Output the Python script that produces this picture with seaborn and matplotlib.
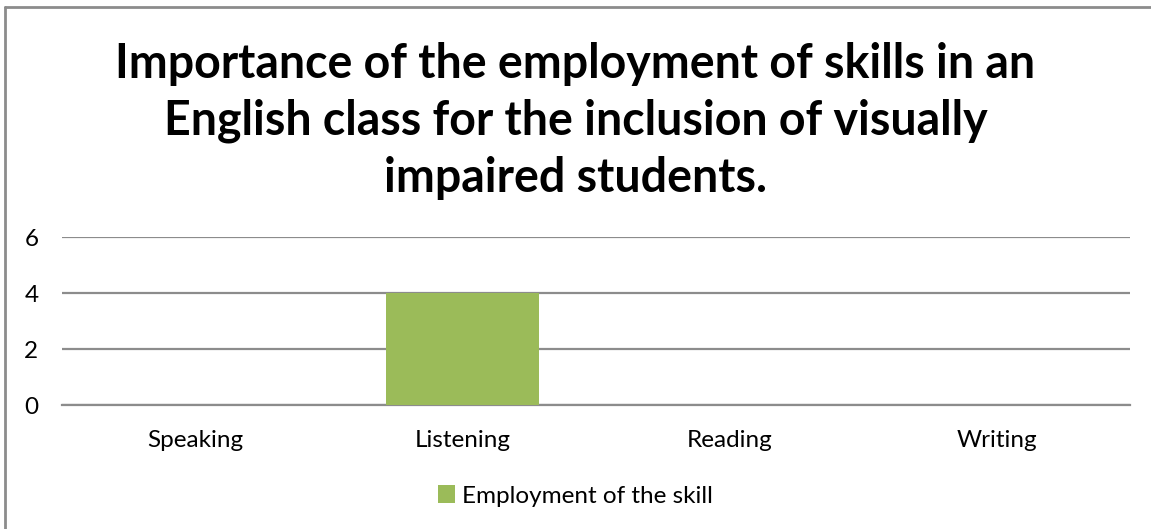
import matplotlib
matplotlib.use("Agg")
import matplotlib.pyplot as plt
import seaborn as sns
import pandas as pd
from matplotlib.lines import Line2D
from matplotlib.patches import Patch

categories = ["Speaking", "Listening", "Reading", "Writing"]
values = [0, 4, 0, 0]
series_name = "Employment of the skill"
yticks = [0, 2, 4, 6]
title = "Importance of the employment of skills in an\nEnglish class for the inclusion of visually\nimpaired students."

sns.set_theme(style="white")
plt.rcParams['font.family'] = ['Lato', 'DejaVu Sans']
plt.rcParams['text.color'] = 'black'

df = pd.DataFrame({"skill": categories, "value": values})

fig = plt.figure(figsize=(11.51, 5.29), dpi=100)
ax = fig.add_axes([62/1151, 1-405/529, 1068/1151, 168/529])

sns.barplot(data=df, x="skill", y="value", color="#9BBB59", width=0.575,
            saturation=1, ax=ax, zorder=3, linewidth=0)

ax.set_ylim(0, 6)
ax.set_yticks(yticks)
ax.set_xlim(-0.5, 3.5)
ax.yaxis.grid(True, color="#8c8c8c", linewidth=1.6, zorder=0)
ax.set_axisbelow(True)
for s in ax.spines.values():
    s.set_visible(False)
ax.spines['bottom'].set_visible(True)
ax.spines['bottom'].set_color("#8c8c8c")
ax.spines['bottom'].set_linewidth(1.6)
ax.set_xlabel("")
ax.set_ylabel("")
ax.tick_params(axis='both', length=0, labelsize=17.5, colors="#000000")
ax.tick_params(axis='y', pad=17)
ax.tick_params(axis='x', pad=18)

fig.text(0.5, 1-121/529, title, ha="center", va="center", fontsize=33.5,
         fontweight="bold", linespacing=1.36, color="black")

handle = Patch(facecolor="#9BBB59", edgecolor="none")
fig.legend([handle], [series_name], loc="center", bbox_to_anchor=(0.5, 1-496/529),
           frameon=False, fontsize=17.5, handlelength=0.7, handleheight=0.7,
           handletextpad=0.3, labelcolor="black")

fig.add_artist(Line2D([5/1151, 5/1151], [0, 1-7/529], color="#8c8c8c", linewidth=2,
                      transform=fig.transFigure))
fig.add_artist(Line2D([5/1151, 1], [1-7/529, 1-7/529], color="#8c8c8c", linewidth=2,
                      transform=fig.transFigure))

fig.savefig("out.png", dpi=100)
